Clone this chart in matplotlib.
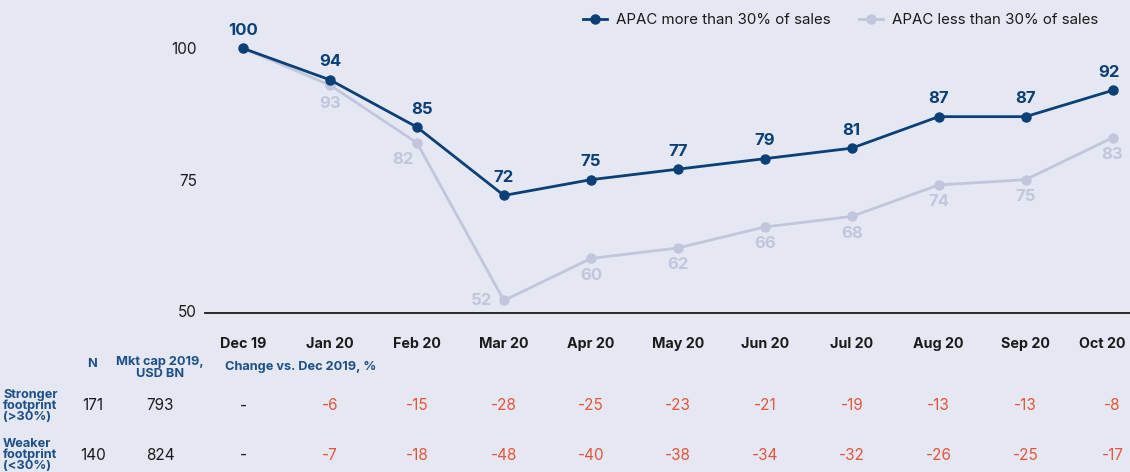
import matplotlib
matplotlib.use("Agg")
import matplotlib.pyplot as plt
import matplotlib.transforms as mtransforms

plt.rcParams['font.family'] = ['Inter', 'DejaVu Sans']

months = ["Dec 19", "Jan 20", "Feb 20", "Mar 20", "Apr 20", "May 20", "Jun 20",
          "Jul 20", "Aug 20", "Sep 20", "Oct 20"]
apac_more = [100, 94, 85, 72, 75, 77, 79, 81, 87, 87, 92]
apac_less = [100, 93, 82, 52, 60, 62, 66, 68, 74, 75, 83]
change_strong = ["-", "-6", "-15", "-28", "-25", "-23", "-21", "-19", "-13", "-13", "-8"]
change_weak = ["-", "-7", "-18", "-48", "-40", "-38", "-34", "-32", "-26", "-25", "-17"]
n_vals = ["171", "140"]
mktcap_vals = ["793", "824"]
row_labels = ["Stronger\nfootprint\n(>30%)", "Weaker\nfootprint\n(<30%)"]
yticks = [50, 75, 100]

BG = "#e5e8f2"
DARK = "#0b3f77"
LIGHT = "#c2c6dc"
RED = "#e5553a"
HEAD = "#1d5088"
BLACK = "#1a1a1a"

fig = plt.figure(figsize=(11.3, 4.72), dpi=100, facecolor=BG)
ax = fig.add_axes([205/1130, 1-313/472, 1-205/1130, (313-20)/472])
ax.set_facecolor(BG)

x = list(range(len(months)))
ax.plot(x, apac_less, color=LIGHT, lw=2.0, marker='o', ms=6.5, zorder=2,
        label="APAC less than 30% of sales", clip_on=False)
ax.plot(x, apac_more, color=DARK, lw=2.0, marker='o', ms=6.5, zorder=3,
        label="APAC more than 30% of sales", clip_on=False)

ax.set_xlim(-0.438, 10.2)
ax.set_ylim(49.62, 105.4)
ax.set_yticks(yticks)
ax.set_yticklabels([str(v) for v in yticks], fontsize=11, color=BLACK)
ax.set_xticks(x)
ax.set_xticklabels(months, fontsize=10.3, fontweight='bold', color=BLACK)
ax.tick_params(axis='x', length=0, pad=17)
ax.tick_params(axis='y', length=0, pad=6)
for s in ['top', 'right', 'left']:
    ax.spines[s].set_visible(False)
ax.spines['bottom'].set_color(BLACK)
ax.spines['bottom'].set_linewidth(1.3)

# shift the last tick label left so it stays inside the figure
last = ax.get_xticklabels()[-1]
last.set_transform(last.get_transform() +
                   mtransforms.ScaledTranslation(-10/100, 0, fig.dpi_scale_trans))

# dark labels (above)
dark_dx = [0, 0, 4, 0, 0, 0, 0, 0, 0, 0, -3]
for i, v in enumerate(apac_more):
    ax.annotate(str(v), (i, v), xytext=(dark_dx[i], 13), textcoords='offset points',
                ha='center', va='center', fontsize=12, fontweight='bold', color=DARK)

# light labels (below)
light_off = [None, (0, -13), (-10, -12), (-16, 0), (0, -12), (0, -12), (0, -12),
             (0, -12), (0, -12), (0, -12), (0, -12)]
for i, v in enumerate(apac_less):
    if light_off[i] is None:
        continue
    ax.annotate(str(v), (i, v), xytext=light_off[i], textcoords='offset points',
                ha='center', va='center', fontsize=12, fontweight='bold', color=LIGHT)

# legend
h, l = ax.get_legend_handles_labels()
leg = fig.legend(h[::-1], l[::-1], loc='center right',
                 bbox_to_anchor=(1104/1130, 1-20/472),
                 ncol=2, frameon=False, fontsize=10.8, handlelength=1.6,
                 handletextpad=0.6, columnspacing=1.9, borderaxespad=0.0,
                 labelcolor=BLACK)

# table
trans = mtransforms.blended_transform_factory(ax.transData, fig.transFigure)
def fy(py):
    return 1 - py/472

fig.text(92/1130, fy(364), "N", ha='center', va='center', fontsize=9.2,
         fontweight='bold', color=HEAD)
fig.text(160/1130, fy(368), "Mkt cap 2019,\nUSD BN", ha='center', va='center',
         fontsize=9.2, fontweight='bold', color=HEAD, linespacing=0.9)
fig.text(225/1130, fy(367), "Change vs. Dec 2019, %", ha='left', va='center',
         fontsize=9.2, fontweight='bold', color=HEAD)

row_y = [406, 455]
for r, (lab, nv, mv, ch) in enumerate(zip(row_labels, n_vals, mktcap_vals,
                                         [change_strong, change_weak])):
    fig.text(3/1130, fy(row_y[r]), lab, ha='left', va='center', fontsize=9.2,
             fontweight='bold', color=HEAD, linespacing=0.85)
    fig.text(93/1130, fy(row_y[r]), nv, ha='center', va='center', fontsize=11,
             color=BLACK)
    fig.text(160/1130, fy(row_y[r]), mv, ha='center', va='center', fontsize=11,
             color=BLACK)
    for i, c in enumerate(ch):
        ax.text(i, fy(row_y[r]), c, transform=trans, ha='center', va='center',
                fontsize=11, color=BLACK if c == "-" else RED, clip_on=False)

fig.savefig("out.png", dpi=100, facecolor=BG)
